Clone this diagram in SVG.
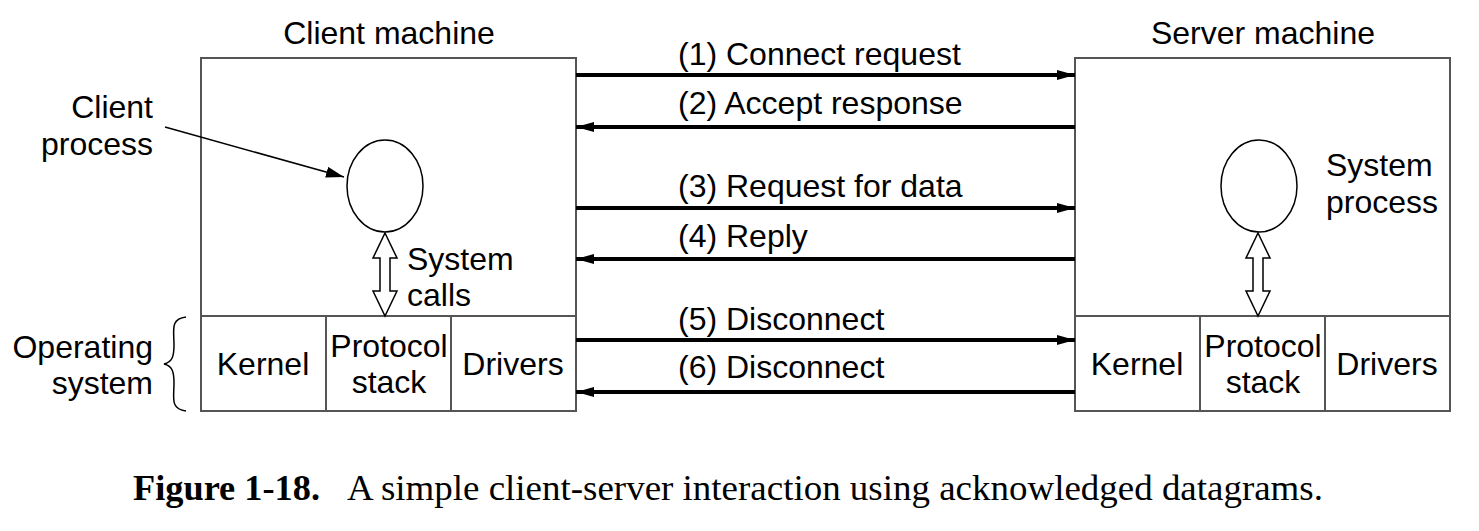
<svg xmlns="http://www.w3.org/2000/svg" width="1479" height="531" viewBox="0 0 1479 531">
<style>
.box{fill:none;stroke:#555;stroke-width:2}
.t{font-family:"Liberation Sans",Arial,sans-serif;font-size:32px;fill:#000}
.m{text-anchor:middle}
.e{text-anchor:end}
.msg{stroke:#000;stroke-width:4;fill:none}
.proc{fill:#fff;stroke:#000;stroke-width:1.5}
.dbl{fill:#fff;stroke:#000;stroke-width:1.5}
.cap{font-family:"Liberation Serif","Times New Roman",serif;font-size:36px;fill:#000}
</style>
<defs>
<marker id="ah" viewBox="0 0 10 10" refX="10" refY="5" markerWidth="4.5" markerHeight="2.5" orient="auto" markerUnits="strokeWidth" preserveAspectRatio="none">
<path d="M0,0 L10,5 L0,10 z" fill="#000"/>
</marker>
<marker id="ah2" viewBox="0 0 10 10" refX="10" refY="5" markerWidth="18" markerHeight="11" orient="auto" markerUnits="userSpaceOnUse" preserveAspectRatio="none">
<path d="M0,0 L10,5 L0,10 z" fill="#000"/>
</marker>
</defs>

<g id="client">
<rect class="box" x="201" y="58" width="375" height="353"/>
<line class="box" x1="201" y1="316" x2="576" y2="316"/>
<line class="box" x1="326" y1="316" x2="326" y2="411"/>
<line class="box" x1="451" y1="316" x2="451" y2="411"/>
<text class="t m" x="389" y="44">Client machine</text>
<text class="t m" x="263" y="375">Kernel</text>
<text class="t m" x="389" y="357">Protocol</text>
<text class="t m" x="389" y="393">stack</text>
<text class="t m" x="513" y="375">Drivers</text>
</g>

<g id="client-process">
<ellipse class="proc" cx="385" cy="186" rx="38" ry="46"/>
<text class="t e" x="153" y="118">Client</text>
<text class="t e" x="153" y="155">process</text>
</g>

<g id="client-syscalls">
<path class="dbl" d="M385,233 L397,258 L390,258 L390,291 L397,291 L385,316 L373,291 L380,291 L380,258 L373,258 Z"/>
<text class="t" x="407" y="270">System</text>
<text class="t" x="407" y="306">calls</text>
</g>

<g id="server">
<rect class="box" x="1075" y="58" width="375" height="353"/>
<line class="box" x1="1075" y1="316" x2="1450" y2="316"/>
<line class="box" x1="1200" y1="316" x2="1200" y2="411"/>
<line class="box" x1="1325" y1="316" x2="1325" y2="411"/>
<text class="t m" x="1263" y="44">Server machine</text>
<text class="t m" x="1137" y="375">Kernel</text>
<text class="t m" x="1263" y="357">Protocol</text>
<text class="t m" x="1263" y="393">stack</text>
<text class="t m" x="1387" y="375">Drivers</text>
</g>

<g id="server-process">
<ellipse class="proc" cx="1259" cy="186" rx="38" ry="46"/>
<path class="dbl" d="M1258,233 L1270,258 L1263,258 L1263,291 L1270,291 L1258,316 L1246,291 L1253,291 L1253,258 L1246,258 Z"/>
<text class="t" x="1326" y="176">System</text>
<text class="t" x="1326" y="213">process</text>
</g>

<g id="os-label">
<text class="t e" x="153" y="358">Operating</text>
<text class="t e" x="153" y="394">system</text>
<path d="M186,317 C170,319 174,330 174,345 C174,357 172,362 164,364 C172,366 174,371 174,383 C174,398 170,409 186,411" fill="none" stroke="#000" stroke-width="1.5"/>
</g>

<g id="connectors">
<line x1="165" y1="127" x2="344" y2="177" stroke="#000" stroke-width="1.5" marker-end="url(#ah2)"/>
<line class="msg" x1="576" y1="75" x2="1075" y2="75" marker-end="url(#ah)"/>
<line class="msg" x1="1075" y1="127" x2="576" y2="127" marker-end="url(#ah)"/>
<line class="msg" x1="576" y1="208" x2="1075" y2="208" marker-end="url(#ah)"/>
<line class="msg" x1="1075" y1="259" x2="576" y2="259" marker-end="url(#ah)"/>
<line class="msg" x1="576" y1="340" x2="1075" y2="340" marker-end="url(#ah)"/>
<line class="msg" x1="1075" y1="392" x2="576" y2="392" marker-end="url(#ah)"/>
</g>

<g id="labels">
<text class="t" x="678" y="65">(1) Connect request</text>
<text class="t" x="678" y="114">(2) Accept response</text>
<text class="t" x="678" y="197">(3) Request for data</text>
<text class="t" x="678" y="247">(4) Reply</text>
<text class="t" x="678" y="330">(5) Disconnect</text>
<text class="t" x="678" y="378">(6) Disconnect</text>
</g>

<g id="caption">
<text class="cap" x="133" y="500" font-weight="bold" textLength="187" lengthAdjust="spacingAndGlyphs">Figure 1-18.</text>
<text class="cap" x="347" y="500" textLength="976" lengthAdjust="spacingAndGlyphs">A simple client-server interaction using acknowledged datagrams.</text>
</g>
</svg>
